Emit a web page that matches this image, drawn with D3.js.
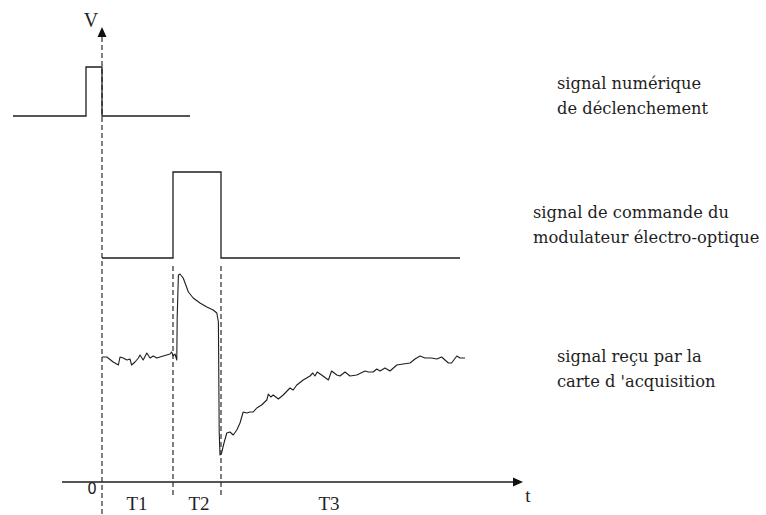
<!DOCTYPE html>
<html>
<head>
<meta charset="utf-8">
<script src="https://cdn.jsdelivr.net/npm/d3@7"></script>
<style>
  html, body { margin: 0; padding: 0; background: #fff; }
  svg { display: block; }
</style>
</head>
<body>
<svg id="chart" width="766" height="515"></svg>
<script>
// Trigger pulse (logic level vs time, arbitrary time units)
const trigTime  = [-22.25, -4, -4, 0, 0, 22];
const trigLevel = [0, 0, 1, 1, 0, 0];

// Electro-optic modulator command (logic level vs time)
const cmdTime  = [0, 17.75, 17.75, 29.75, 29.75, 89.5];
const cmdLevel = [0, 0, 1, 1, 0, 0];

// Signal received by the acquisition board (arbitrary units)
const acqTime = [0, 1.2, 2.8, 4.1, 4.5, 5.3, 6.2, 7.0, 7.4, 8.25, 9.1, 9.5, 10.3, 11.2, 12.0, 12.8, 13.7, 15.3, 17.0, 17.4, 17.8, 18.25, 18.7, 18.8, 19.1, 19.5, 20.3, 21.6, 22.8, 24.5, 26.2, 27.8, 28.7, 29.1, 29.3, 29.5, 29.9, 30.5, 31.2, 32.0, 32.8, 33.7, 34.5, 35.3, 36.2, 37.0, 37.8, 38.7, 39.9, 41.2, 41.6, 42.2, 42.8, 44.1, 45.3, 47.0, 47.8, 48.7, 50.3, 52.0, 52.7, 53.25, 53.8, 54.9, 56.6, 57.4, 58.7, 59.5, 60.75, 62.0, 63.7, 65.75, 66.6, 67.8, 68.7, 69.5, 70.75, 72.0, 73.7, 75.3, 77.0, 78.25, 79.5, 80.75, 82.4, 83.7, 84.9, 85.75, 86.6, 87.4, 88.7, 89.5, 90.75];
const acqValue = [0.00, 0.00, -0.05, -0.08, 0.00, -0.01, -0.03, -0.02, -0.08, -0.05, -0.01, 0.02, -0.03, 0.04, -0.01, 0.01, -0.01, 0.01, 0.03, 0.05, 0.01, 0.03, -0.03, 0.40, 0.82, 0.83, 0.79, 0.65, 0.59, 0.54, 0.50, 0.47, 0.44, 0.35, -0.75, -0.98, -0.96, -0.86, -0.76, -0.75, -0.78, -0.73, -0.66, -0.55, -0.56, -0.55, -0.55, -0.51, -0.48, -0.43, -0.37, -0.40, -0.38, -0.42, -0.38, -0.31, -0.33, -0.28, -0.23, -0.19, -0.16, -0.19, -0.15, -0.18, -0.23, -0.14, -0.18, -0.19, -0.15, -0.19, -0.18, -0.14, -0.15, -0.15, -0.12, -0.14, -0.11, -0.14, -0.08, -0.07, -0.06, -0.02, 0.01, -0.01, -0.01, -0.02, 0.00, -0.03, -0.06, -0.06, 0.01, -0.01, -0.01];

// Phase boundaries and labels
const phaseBounds = [0, 17.75, 29.75];
const phaseLabels = ["T1", "T2", "T3"];
const phaseLabelTime = [8.75, 24.25, 56.75];

// Time axis extent
const axisStart = -10;
const axisEnd = 105.25;

// Trace captions (one array of lines per trace)
const trigCaption = ["signal numérique", "de déclenchement"];
const cmdCaption  = ["signal de commande du", "modulateur électro-optique"];
const acqCaption  = ["signal reçu par la", "carte d 'acquisition"];

const svg = d3.select("#chart");
const ink = "#1e1e1e";
const serif = "'DejaVu Serif', serif";

// Shared time scale
const x = d3.scaleLinear().domain([0, 100]).range([102, 502]);

// One vertical scale per trace
const yTrig = d3.scaleLinear().domain([0, 1]).range([116, 67]);
const yCmd  = d3.scaleLinear().domain([0, 1]).range([258, 172]);
const yAcq  = d3.scaleLinear().domain([-1, 1]).range([457, 257]);
const yAxis = 482;

// Vertical dashed axis (V) with arrowhead
svg.append("line")
  .attr("x1", x(0)).attr("x2", x(0))
  .attr("y1", 37).attr("y2", 515)
  .attr("stroke", "#555").attr("stroke-width", 1.5)
  .attr("stroke-dasharray", "5,3");
svg.append("path")
  .attr("d", `M${x(0)},27 L${x(0) - 4.5},37 L${x(0) + 4.5},37 Z`)
  .attr("fill", "#111");
svg.append("text")
  .attr("x", x(0) - 11).attr("y", 27)
  .attr("text-anchor", "middle")
  .attr("font-family", "'Liberation Serif', serif")
  .attr("font-size", 20)
  .attr("fill", ink)
  .text("V");

// Phase boundary dashed lines
svg.selectAll("line.phase")
  .data(phaseBounds.slice(1))
  .join("line")
  .attr("class", "phase")
  .attr("x1", d => x(d)).attr("x2", d => x(d))
  .attr("y1", 266).attr("y2", 497)
  .attr("stroke", "#555").attr("stroke-width", 1.5)
  .attr("stroke-dasharray", "5,3");

// Time axis with arrowhead
svg.append("line")
  .attr("x1", x(axisStart)).attr("x2", x(axisEnd) - 8)
  .attr("y1", yAxis).attr("y2", yAxis)
  .attr("stroke", ink).attr("stroke-width", 1.3);
svg.append("path")
  .attr("d", `M${x(axisEnd)},${yAxis} L${x(axisEnd) - 10},${yAxis - 4.5} L${x(axisEnd) - 10},${yAxis + 4.5} Z`)
  .attr("fill", "#111");
svg.append("text")
  .attr("x", 528).attr("y", 502)
  .attr("text-anchor", "middle")
  .attr("font-family", "'Liberation Serif', serif")
  .attr("font-size", 19)
  .attr("fill", ink)
  .text("t");
svg.append("text")
  .attr("x", x(0) - 10).attr("y", 494)
  .attr("text-anchor", "middle")
  .attr("font-family", "'DejaVu Sans', sans-serif")
  .attr("font-size", 15)
  .attr("fill", ink)
  .text("0");

// Phase labels
svg.selectAll("text.phase")
  .data(phaseLabels)
  .join("text")
  .attr("class", "phase")
  .attr("x", (d, i) => x(phaseLabelTime[i]))
  .attr("y", 510)
  .attr("text-anchor", "middle")
  .attr("font-family", "'Liberation Serif', serif")
  .attr("font-size", 19)
  .attr("fill", ink)
  .text(d => d);

// Traces
const trace = (t, v, ys) => d3.line().x((d, i) => x(t[i])).y((d, i) => ys(v[i]))(t);

svg.append("path")
  .attr("d", trace(trigTime, trigLevel, yTrig))
  .attr("fill", "none").attr("stroke", ink).attr("stroke-width", 1.3);
svg.append("path")
  .attr("d", trace(cmdTime, cmdLevel, yCmd))
  .attr("fill", "none").attr("stroke", ink).attr("stroke-width", 1.3);
svg.append("path")
  .attr("d", trace(acqTime, acqValue, yAcq))
  .attr("fill", "none").attr("stroke", ink).attr("stroke-width", 1.1)
  .attr("stroke-linejoin", "round");

// Captions
const caption = (lines, x0, y0) => {
  svg.append("g").selectAll("text")
    .data(lines)
    .join("text")
    .attr("x", x0)
    .attr("y", (d, i) => y0 + i * 25)
    .attr("font-family", serif)
    .attr("font-size", 16.3)
    .attr("fill", ink)
    .text(d => d);
};
caption(trigCaption, 557, 89);
caption(cmdCaption, 533, 218);
caption(acqCaption, 557, 362);
</script>
</body>
</html>
